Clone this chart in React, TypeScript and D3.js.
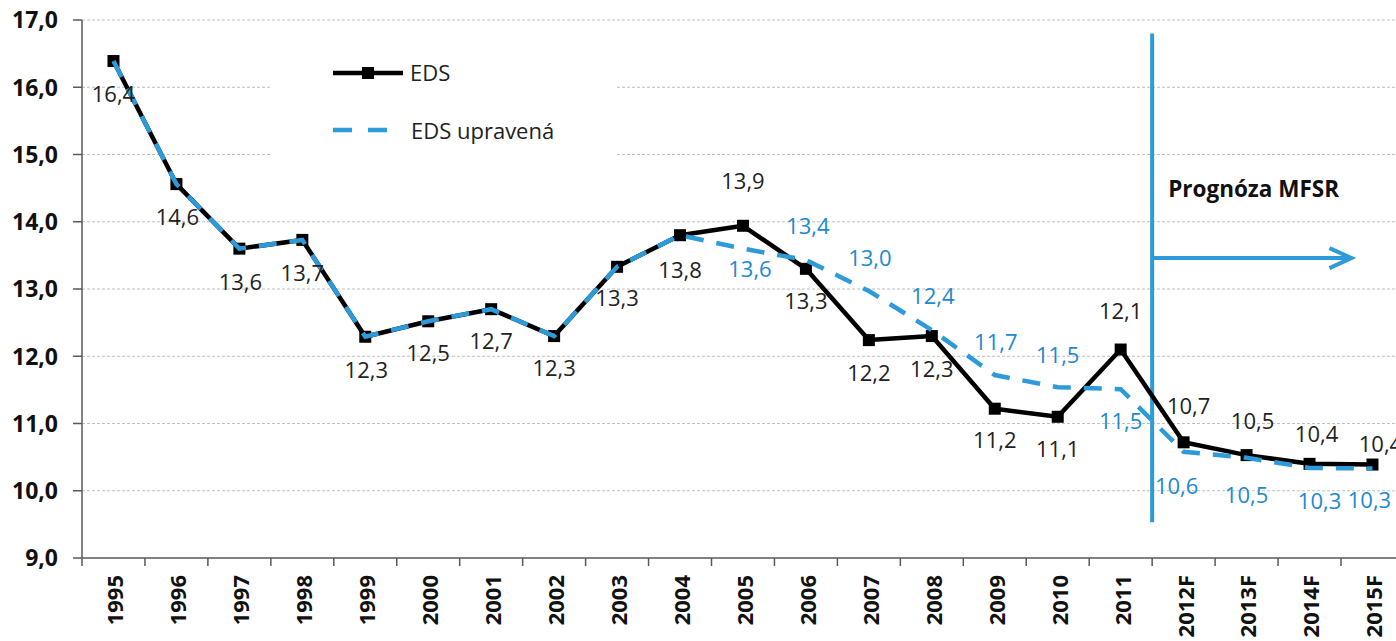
import React from "react";
import * as d3 from "d3";

// ---------- data ----------
const categories = [
  "1995", "1996", "1997", "1998", "1999", "2000", "2001", "2002", "2003", "2004",
  "2005", "2006", "2007", "2008", "2009", "2010", "2011", "2012F", "2013F", "2014F", "2015F",
];
const edsValues = [
  16.39, 14.56, 13.6, 13.73, 12.29, 12.52, 12.7, 12.3, 13.33, 13.8,
  13.94, 13.3, 12.24, 12.3, 11.22, 11.1, 12.1, 10.72, 10.53, 10.4, 10.39,
];
const edsAdjValues = [
  16.39, 14.56, 13.6, 13.73, 12.29, 12.52, 12.7, 12.3, 13.33, 13.8,
  13.6, 13.43, 12.97, 12.39, 11.72, 11.54, 11.51, 10.58, 10.49, 10.34, 10.33,
];
const yTicks = [9, 10, 11, 12, 13, 14, 15, 16, 17];
const seriesNames = ["EDS", "EDS upravená"];
const forecastLabel = "Prognóza MFSR";
const forecastStart = "2012F";

// ---------- label layout (dx, dy of label centre from point) ----------
const edsLabelOffsets: ([number, number] | null)[] = [
  [0, 33], [1, 33], [1, 33], [0, 33], [1, 33], [0, 32], [0, 32], [0, 32], [0, 31], [0, 35],
  [0, -45], [0, 32], [0, 33], [0, 33], [0, 31], [0, 32], [0, -38], [5, -36], [6, -34], [7, -30], [8, -20],
];
const adjLabelOffsets: ([number, number] | null)[] = [
  null, null, null, null, null, null, null, null, null, null,
  [7, 20], [2, -34], [1, -33], [1, -34], [1, -33], [0, -32], [0, 32], [-7, 34], [0, 37], [10, 33], [-3, 32],
];

const W = 1396;
const H = 641;
const FONT = "'Open Sans', 'Noto Sans', sans-serif";
const BLUE = "#2D9AD9";
const BLUE_TEXT = "#2189CF";
const TEXT = "#222";
const AXIS = "#595959";

const fmt = (v: number) => v.toFixed(1).replace(".", ",");

export default function App() {
  const bandW = 62.95;
  const x = d3
    .scaleBand<string>()
    .domain(categories)
    .range([82, 82 + categories.length * bandW])
    .padding(0);
  const y = d3.scaleLinear().domain([9, 17]).range([558, 20]);
  const cx = (c: string) => (x(c) as number) + x.bandwidth() / 2;

  const line = d3
    .line<number>()
    .x((_, i) => cx(categories[i]))
    .y((v) => y(v));

  const xLeft = x.range()[0];
  const xRight = x.range()[1];
  const vx = x(forecastStart) as number;
  const arrowY = y(13.46);
  const arrowEnd = cx("2015F") - 21;
  const mk = 12;

  return (
    <svg
      width={W}
      height={H}
      style={{ position: "absolute", left: 0, top: 0, background: "#fff" }}
      fontFamily={FONT}
    >
      {/* gridlines */}
      {yTicks
        .filter((t) => t > 9)
        .map((t) => (
          <line
            key={"g" + t}
            x1={xLeft}
            x2={xRight}
            y1={y(t)}
            y2={y(t)}
            stroke="#BFBFBF"
            strokeWidth={1}
            strokeDasharray="3 2"
          />
        ))}

      {/* legend */}
      <rect x={270} y={35} width={347} height={155} fill="#fff" />
      <line x1={333} x2={403} y1={73} y2={73} stroke="#000" strokeWidth={4.5} />
      <rect x={368 - mk / 2} y={73 - mk / 2} width={mk} height={mk} fill="#000" />
      <text x={410} y={73} dy="0.36em" fontSize={22} fill={TEXT}>
        {seriesNames[0]}
      </text>
      <line
        x1={333}
        x2={388}
        y1={130}
        y2={130}
        stroke={BLUE}
        strokeWidth={4.5}
        strokeDasharray="19 16"
      />
      <text x={411} y={131} dy="0.36em" fontSize={22} fill={TEXT}>
        {seriesNames[1]}
      </text>

      {/* y axis */}
      <line x1={xLeft} x2={xLeft} y1={y(17)} y2={y(9)} stroke={AXIS} strokeWidth={1.5} />
      {yTicks.map((t) => (
        <g key={"yt" + t}>
          <line x1={xLeft - 9} x2={xLeft} y1={y(t)} y2={y(t)} stroke={AXIS} strokeWidth={1.5} />
          <text
            x={58}
            y={y(t)}
            dy="0.36em"
            textAnchor="end"
            fontSize={23}
            fontWeight="bold"
            fill="#111"
          >
            {fmt(t)}
          </text>
        </g>
      ))}

      {/* x axis */}
      <line x1={xLeft} x2={xRight} y1={y(9)} y2={y(9)} stroke={AXIS} strokeWidth={1.5} />
      {categories.map((c) => (
        <g key={"xt" + c}>
          <line
            x1={x(c) as number}
            x2={x(c) as number}
            y1={y(9)}
            y2={y(9) + 8}
            stroke={AXIS}
            strokeWidth={1.5}
          />
          <text
            transform={`translate(${cx(c) + 2},575) rotate(-90)`}
            dy="0.36em"
            textAnchor="end"
            fontSize={22}
            fontWeight="bold"
            fill="#111"
          >
            {c}
          </text>
        </g>
      ))}

      {/* forecast annotation */}
      <line x1={vx} x2={vx} y1={y(16.8)} y2={y(9.53)} stroke={BLUE} strokeWidth={4} />
      <line x1={vx} x2={arrowEnd} y1={arrowY} y2={arrowY} stroke={BLUE} strokeWidth={4} />
      <polyline
        points={`${arrowEnd - 22},${arrowY - 10} ${arrowEnd},${arrowY} ${arrowEnd - 22},${arrowY + 10}`}
        fill="none"
        stroke={BLUE}
        strokeWidth={4}
      />
      <text x={vx + 16} y={y(14) - 25} fontSize={22.5} fontWeight="bold" fill="#111">
        {forecastLabel}
      </text>

      {/* EDS series */}
      <path d={line(edsValues) || ""} fill="none" stroke="#000" strokeWidth={4.5} strokeLinejoin="round" />
      {edsValues.map((v, i) => (
        <rect
          key={"m" + i}
          x={cx(categories[i]) - mk / 2}
          y={y(v) - mk / 2}
          width={mk}
          height={mk}
          fill="#000"
        />
      ))}

      {/* EDS upravená series */}
      <path
        d={line(edsAdjValues) || ""}
        fill="none"
        stroke={BLUE}
        strokeWidth={4.5}
        strokeDasharray="18 13"
      />

      {/* labels */}
      {edsValues.map((v, i) => {
        const o = edsLabelOffsets[i];
        if (!o) return null;
        return (
          <text
            key={"l" + i}
            x={cx(categories[i]) + o[0]}
            y={y(v) + o[1]}
            dy="0.36em"
            textAnchor="middle"
            fontSize={22}
            fill={TEXT}
          >
            {fmt(v)}
          </text>
        );
      })}
      {edsAdjValues.map((v, i) => {
        const o = adjLabelOffsets[i];
        if (!o) return null;
        return (
          <text
            key={"la" + i}
            x={cx(categories[i]) + o[0]}
            y={y(v) + o[1]}
            dy="0.36em"
            textAnchor="middle"
            fontSize={22}
            fill={BLUE_TEXT}
          >
            {fmt(v)}
          </text>
        );
      })}
    </svg>
  );
}
